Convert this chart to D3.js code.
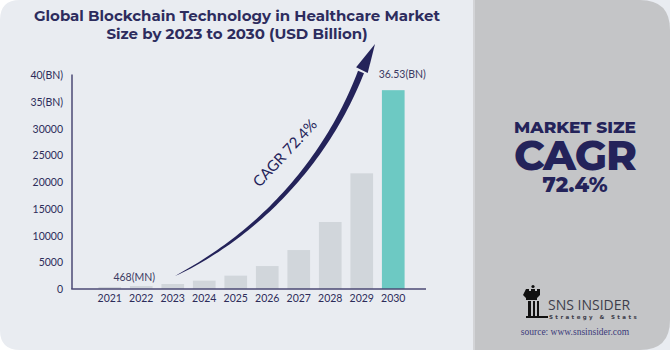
<!DOCTYPE html>
<html>
<head>
<meta charset="utf-8">
<script src="https://cdn.jsdelivr.net/npm/d3@7"></script>
<style>
  html, body { margin: 0; padding: 0; background: #ffffff; }
  svg { display: block; }
</style>
</head>
<body>
<svg id="chart" width="670" height="350"></svg>
<script>
// Chart values (USD million)
const years = ['2021', '2022', '2023', '2024', '2025', '2026', '2027', '2028', '2029', '2030'];
const marketSize = [380, 560, 940, 1560, 2500, 4300, 7300, 12550, 21670, 37250];
const yTicks = [0, 5000, 10000, 15000, 20000, 25000, 30000, 35000, 40000];
const yTickLabels = ['0', '5000', '10000', '15000', '20000', '25000', '30000', '35(BN)', '40(BN)'];
const barLabels = { '2022': '468(MN)', '2030': '36.53(BN)' };
const highlightYear = '2030';
const titleLines = ['Global Blockchain Technology in Healthcare Market', 'Size by 2023 to 2030 (USD Billion)'];
const cagrText = 'CAGR 72.4%';

const navy = '#24235a';
const svg = d3.select('#chart');

// Panels
svg.append('path')
  .attr('d', 'M20,0 H670 V350 H20 Q0,350 0,330 V20 Q0,0 20,0 Z')
  .attr('fill', '#e9ecf1');
svg.append('rect')
  .attr('x', 473).attr('y', 0).attr('width', 3).attr('height', 350)
  .attr('fill', '#d3d4d7');
svg.append('path')
  .attr('d', 'M475,0 H640 Q670,0 670,30 V320 Q670,350 640,350 H475 Z')
  .attr('fill', '#c4c5c7');

// Title
svg.append('text')
  .attr('x', 237)
  .attr('y', 21)
  .attr('text-anchor', 'middle')
  .attr('font-family', 'Montserrat, "Open Sans", sans-serif')
  .attr('font-weight', 700)
  .attr('font-size', 15)
  .attr('fill', '#2d2c5e')
  .selectAll('tspan')
  .data(titleLines)
  .join('tspan')
  .attr('x', 237)
  .attr('dy', (d, i) => (i === 0 ? 0 : 17.5))
  .text((d) => d);

// Scales
const x = d3.scaleBand().domain(years).range([94, 409]).paddingInner(0.28).paddingOuter(0.14);
const y = d3.scaleLinear().domain([0, 40000]).range([289, 75.5]);

const axisColor = '#4b4a75';
const labelFont = 'Lato, "Open Sans", sans-serif';

// Bars
svg.append('g')
  .selectAll('rect')
  .data(years)
  .join('rect')
  .attr('x', (d) => x(d))
  .attr('width', x.bandwidth())
  .attr('y', (d, i) => y(marketSize[i]))
  .attr('height', (d, i) => y(0) - y(marketSize[i]))
  .attr('fill', (d) => (d === highlightYear ? '#6dc9c3' : '#d1d6db'));

// Y axis
const yAxis = svg.append('g')
  .attr('transform', 'translate(72,0)')
  .call(d3.axisLeft(y).tickValues(yTicks).tickSize(0).tickPadding(9)
    .tickFormat((d, i) => yTickLabels[i]));
yAxis.select('.domain').remove();
yAxis.selectAll('text')
  .attr('font-family', labelFont)
  .attr('font-size', 10.5)
  .attr('fill', '#2d2c5a');

// X axis
const xAxis = svg.append('g')
  .attr('transform', 'translate(0,289)')
  .call(d3.axisBottom(x).tickSize(0).tickPadding(6));
xAxis.select('.domain').remove();
xAxis.selectAll('text')
  .attr('font-family', labelFont)
  .attr('font-size', 10.5)
  .attr('fill', '#2d2c5a');

// Axis lines
svg.append('line')
  .attr('x1', 72).attr('x2', 72).attr('y1', y(40000) - 1).attr('y2', y(0))
  .attr('stroke', axisColor).attr('stroke-width', 1.5);
svg.append('line')
  .attr('x1', 71.25).attr('x2', 426).attr('y1', y(0)).attr('y2', y(0))
  .attr('stroke', axisColor).attr('stroke-width', 1.5);

// Bar value labels
svg.append('g')
  .selectAll('text')
  .data(Object.keys(barLabels))
  .join('text')
  .attr('x', (d) => x(d) + x.bandwidth() / 2 + (d === highlightYear ? 9 : -7))
  .attr('y', (d) => y(marketSize[years.indexOf(d)]) - (d === highlightYear ? 12 : 5))
  .attr('text-anchor', 'middle')
  .attr('font-family', labelFont)
  .attr('font-size', 10.5)
  .attr('fill', '#3b3a62')
  .text((d) => barLabels[d]);

// CAGR arrow: tapered curve plus head
const p0 = [175, 276];
const p1 = [255, 236];
const p2 = [325, 165];
const p3 = [361, 72];
const tip = [375, 44];
const bez = (t, k) => {
  const u = 1 - t;
  return u * u * u * p0[k] + 3 * u * u * t * p1[k] + 3 * u * t * t * p2[k] + t * t * t * p3[k];
};
const left = [];
const right = [];
const n = 60;
for (let i = 0; i <= n; i += 1) {
  const t = i / n;
  const px = bez(t, 0);
  const py = bez(t, 1);
  const t2 = Math.min(1, t + 0.01);
  const t1 = Math.max(0, t - 0.01);
  const dx = bez(t2, 0) - bez(t1, 0);
  const dy = bez(t2, 1) - bez(t1, 1);
  const len = Math.hypot(dx, dy);
  const w = 3.2 * Math.pow(t, 0.6);
  left.push([px - (dy / len) * w, py + (dx / len) * w]);
  right.push([px + (dy / len) * w, py - (dx / len) * w]);
}
svg.append('path')
  .attr('d', d3.line()(left.concat(right.reverse())) + 'Z')
  .attr('fill', navy);

// Arrow head
const hdx = tip[0] - p3[0];
const hdy = tip[1] - p3[1];
const hl = Math.hypot(hdx, hdy);
const nx = -hdy / hl;
const ny = hdx / hl;
const base = [p3[0] + (hdx / hl) * 2, p3[1] + (hdy / hl) * 2];
svg.append('path')
  .attr('d', d3.line()([
    [base[0] + nx * 6.5, base[1] + ny * 6.5],
    tip,
    [base[0] - nx * 6.5, base[1] - ny * 6.5],
  ]) + 'Z')
  .attr('fill', navy);

svg.append('text')
  .attr('transform', 'translate(286,154) rotate(-47)')
  .attr('text-anchor', 'middle')
  .attr('dominant-baseline', 'middle')
  .attr('font-family', labelFont)
  .attr('font-size', 15)
  .attr('fill', navy)
  .text(cagrText);

// Right panel text
const side = svg.append('g').attr('fill', navy).attr('text-anchor', 'middle')
  .attr('font-family', 'Montserrat, "Open Sans", sans-serif').attr('font-weight', 800);
side.append('text').attr('x', 575).attr('y', 133).attr('font-size', 17).text('MARKET SIZE');
side.append('text').attr('x', 575).attr('y', 169.5).attr('font-size', 42).attr('letter-spacing', -1).text('CAGR');
side.append('text').attr('x', 575).attr('y', 191.5).attr('font-size', 21).text('72.4%');

// Logo
const logo = svg.append('g').attr('fill', '#111111');
logo.append('circle').attr('cx', 533).attr('cy', 286.5).attr('r', 1.6);
logo.append('path')
  .attr('d', 'M526,289 h3 v2 h2 v-2 h4 v2 h2 v-2 h3 v6 l-3,3 v2 h-11 v-2 l-3,-3 Z');
logo.append('path')
  .attr('d', 'M528,301 h3 v15 h-3 Z M533,301 h2 v15 h-2 Z M537,301 h2 v15 h-2 Z M526,316 h22 v2 h-22 Z');
svg.append('text')
  .attr('x', 548).attr('y', 310)
  .attr('font-family', '"Open Sans", sans-serif')
  .attr('font-size', 14)
  .attr('fill', '#3d3d4a')
  .text('SNS INSIDER');
svg.append('text')
  .attr('x', 549).attr('y', 318.5)
  .attr('font-family', '"DejaVu Sans", sans-serif')
  .attr('font-weight', 700)
  .attr('font-size', 5.5)
  .attr('letter-spacing', 2.4)
  .attr('fill', '#3d3d4a')
  .text('Strategy & Stats');
svg.append('text')
  .attr('x', 575).attr('y', 334.5)
  .attr('text-anchor', 'middle')
  .attr('font-family', '"Liberation Serif", serif')
  .attr('font-size', 9.5)
  .attr('fill', '#3a3a7a')
  .text('source: www.snsinsider.com');
</script>
</body>
</html>
